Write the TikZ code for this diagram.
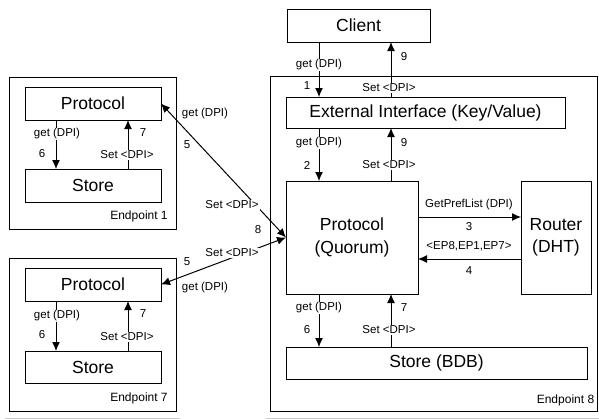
\documentclass[tikz,border=0pt]{standalone}
\usepackage{fontspec}
\setmainfont{Liberation Sans}
\usetikzlibrary{arrows.meta,backgrounds}
\begin{document}
\begin{tikzpicture}[x=1pt,y=-1pt,
  box/.style={draw,line width=0.9pt,fill=white,inner sep=0pt,outer sep=0pt,align=center,font=\fontsize{17.5}{22.5}\selectfont},
  cont/.style={draw,line width=0.9pt,fill=white,inner sep=0pt,outer sep=0pt},
  lbl/.style={font=\fontsize{11.5}{13}\selectfont,fill=white,inner sep=1pt},
  eplbl/.style={font=\fontsize{12}{14}\selectfont,inner sep=0pt},
  arr/.style={line width=1pt,-{Latex[length=9pt,width=8pt]}},
  darr/.style={line width=1pt,{Latex[length=9pt,width=8pt]}-{Latex[length=9pt,width=8pt]}},
]
\useasboundingbox[fill=white] (0,0) rectangle (599,418);

% containers
\node[cont,minimum width=167pt,minimum height=152pt] (ep1) at (92.5,153) {};
\node[cont,minimum width=167pt,minimum height=153pt] (ep7) at (92.5,334.5) {};
\node[cont,minimum width=327pt,minimum height=335pt] (ep8) at (433.5,243.5) {};
\node[box,minimum width=143pt,minimum height=33pt] (client) at (358.5,25.5) {Client};

% soft shadows
\begin{scope}[on background layer]
\foreach \n in {ep1,ep7,ep8,client}{
  \foreach \s in {0,1,...,6}{
    \fill[black,opacity=0.075] ([shift={(-\s*0.8,4-\s*0.8)}]\n.north west) rectangle ([shift={(\s*0.8,4+\s*0.9)}]\n.south east);
  }
}
\end{scope}

% endpoint 8 inner boxes
\node[box,minimum width=279pt,minimum height=31pt] (ext) at (425.5,112.5) {External Interface (Key/Value)};
\node[box,minimum width=132pt,minimum height=113pt] (quorum) at (352,237.5) {Protocol\\(Quorum)};
\node[box,minimum width=70pt,minimum height=113pt] (router) at (556,237.5) {Router\\(DHT)};
\node[box,minimum width=301pt,minimum height=32pt] (storeb) at (436.5,363) {Store (BDB)};
\node[eplbl] (ep8l) at (565.5,400) {Endpoint 8};

% endpoint 1
\node[box,minimum width=136pt,minimum height=33pt] (p1) at (93,103.5) {Protocol};
\node[box,minimum width=136pt,minimum height=33pt] (s1) at (93,185.5) {Store};
\node[eplbl] (ep1l) at (139,216) {Endpoint 1};

% endpoint 7
\node[box,minimum width=136pt,minimum height=33pt] (p7) at (93,284.5) {Protocol};
\node[box,minimum width=136pt,minimum height=32pt] (s7) at (93,367) {Store};
\node[eplbl] (ep7l) at (139,398) {Endpoint 7};

% column / row helpers
\coordinate (cL) at (319,0);
\coordinate (cR) at (391,0);
\coordinate (dL) at (56,0);
\coordinate (dR) at (128,0);
\coordinate (rA) at (0,217);
\coordinate (rB) at (0,259);

% connectors endpoint 8
\draw[arr] (client.south -| cL) -- (ext.north -| cL);
\draw[arr] (ext.north -| cR) -- (client.south -| cR);
\draw[arr] (ext.south -| cL) -- (quorum.north -| cL);
\draw[arr] (quorum.north -| cR) -- (ext.south -| cR);
\draw[arr] (quorum.east |- rA) -- (router.west |- rA);
\draw[arr] (router.west |- rB) -- (quorum.east |- rB);
\draw[arr] (quorum.south -| cL) -- (storeb.north -| cL);
\draw[arr] (storeb.north -| cR) -- (quorum.south -| cR);

% connectors endpoint 1 / 7
\draw[arr] (p1.south -| dL) -- (s1.north -| dL);
\draw[arr] (s1.north -| dR) -- (p1.south -| dR);
\draw[arr] (p7.south -| dL) -- (s7.north -| dL);
\draw[arr] (s7.north -| dR) -- (p7.south -| dR);

% cross connectors
\draw[darr] (quorum.west) -- (p1.east);
\draw[darr] (quorum.west) -- (p7.east);

% labels endpoint 8
\node[lbl] (l1) at (319,65) {get (DPI)};
\node[lbl] (n1) at (307,86) {1};
\node[lbl] (n9a) at (404,57) {9};
\node[lbl] (l9a) at (389,88) {Set <DPI>};
\node[lbl] (l2) at (319,143) {get (DPI)};
\node[lbl] (n2) at (307,165) {2};
\node[lbl] (n9b) at (404,143) {9};
\node[lbl] (l9b) at (389,165) {Set <DPI>};
\node[lbl] (l3) at (469,205) {GetPrefList (DPI)};
\node[lbl] (n3) at (469,227) {3};
\node[lbl] (l4) at (469,246) {<EP8,EP1,EP7>};
\node[lbl] (n4) at (469,271) {4};
\node[lbl] (l6) at (319,308) {get (DPI)};
\node[lbl] (n6) at (307,330) {6};
\node[lbl] (n7) at (404,308) {7};
\node[lbl] (l7) at (389,330) {Set <DPI>};

% labels endpoint 1
\node[lbl] (e1g) at (57,134) {get (DPI)};
\node[lbl] (e1n6) at (42,154) {6};
\node[lbl] (e1n7) at (143,133) {7};
\node[lbl] (e1s) at (127,155) {Set <DPI>};

% labels endpoint 7
\node[lbl] (e7g) at (57,316) {get (DPI)};
\node[lbl] (e7n6) at (42,335) {6};
\node[lbl] (e7n7) at (143,314) {7};
\node[lbl] (e7s) at (127,337) {Set <DPI>};

% cross labels
\node[lbl] (xg1) at (205,114) {get (DPI)};
\node[lbl] (xn5a) at (187,145) {5};
\node[lbl] (xs1) at (232,205) {Set <DPI>};
\node[lbl] (xn8) at (258,230) {8};
\node[lbl] (xs7) at (232,253) {Set <DPI>};
\node[lbl] (xn5b) at (187,262) {5};
\node[lbl] (xg7) at (205,288) {get (DPI)};
\end{tikzpicture}
\end{document}
